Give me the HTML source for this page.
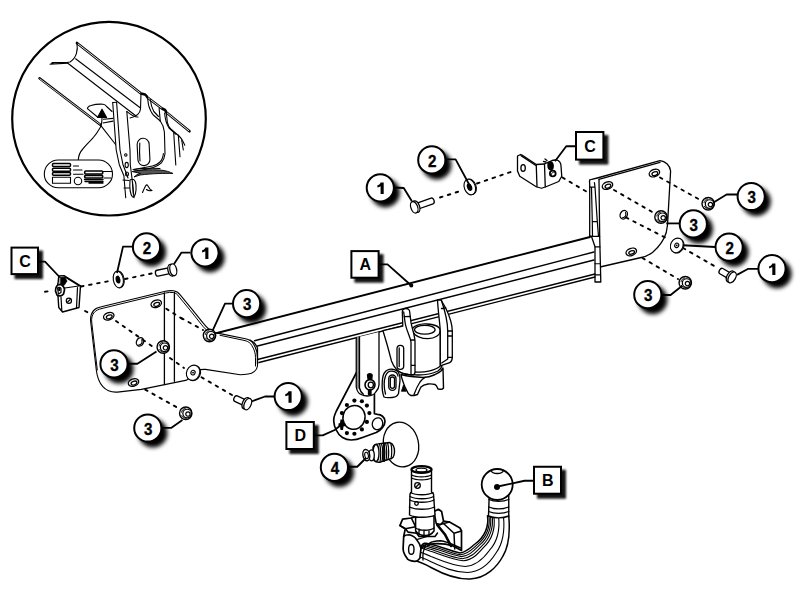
<!DOCTYPE html>
<html><head><meta charset="utf-8">
<style>
html,body{margin:0;padding:0;background:#fff;width:800px;height:600px;overflow:hidden}
svg{display:block}
text{font-family:"Liberation Sans",sans-serif;font-weight:bold}
</style></head><body>
<svg width="800" height="600" viewBox="0 0 800 600">
<defs>
<filter id="sh" x="-50%" y="-50%" width="200%" height="200%"><feGaussianBlur stdDeviation="2.2"/></filter>
<filter id="sh2" x="-50%" y="-50%" width="200%" height="200%"><feGaussianBlur stdDeviation="1.3"/></filter>
</defs>

<g id="inset" fill="none" stroke="#000" stroke-width="1.1" stroke-linecap="round" stroke-linejoin="round">
<circle cx="109" cy="118.7" r="96.8" stroke-width="2.2"/>
<!-- channel -->
<path d="M76.9,43 L141,93.5 L145,94.5 C146.5,95.5 147,96.5 147.5,97.5 L162,108.5 L165,110 C166,111 166,112 166.5,112.5 L189.5,131.3" stroke-width="2.6"/>
<path d="M78,43.9 L140.3,93 M148.3,98.1 L161.5,108.1 M167.3,113.1 L188.8,130.7" stroke="#fff" stroke-width="0.9"/>
<path d="M76.9,43 C78.2,50 76.5,58 70,62 L67.7,62.2 L52,62.6 M67.7,63.1 L50.1,64.2 L53,63.2"/>
<path d="M75.6,58.8 L140.5,108 M67.5,63 L136,116"/>
<path d="M141,93.5 L140.5,109 C140,114 137,116.5 130,118"/>
<!-- left rail -->
<path d="M39.5,78.3 L100.3,124.8" stroke-width="2.5"/>
<path d="M39.9,78.9 L100,124.4" stroke="#fff" stroke-width="0.8"/>
<path d="M100.3,124.8 L116,145"/>
<!-- oval hole + arrow -->
<path d="M97.5,117 L87.4,108.7 C87.5,107 89,106 91,105.5 C95,104.3 100,104 103,104.2 C105,104.3 106,105.5 106.6,106.5 L112,111.5"/>
<path d="M102,109.2 L97.5,117.4 L106.6,117.4 Z" fill="#000"/>
<path d="M103.4,119.3 L113,118.4 M103,123 L113,121.1"/>
<path d="M102,117.4 C102,120 101.8,126 99.3,128.9 C97,133 95,135.5 92.9,138 C89,142 84,147 82.8,149 C80,152 78.5,156 78.3,160"/>
<!-- flanges right of bracket -->
<path d="M147.5,97.5 C148,101 148.3,104 148.7,105.7 C150,110 151.5,113 153.3,115 L160.3,121 C162.5,124 164,128 164.4,132 L165,153.7 C164.5,158 163,161 161.4,162.8 C159,165 156,166.5 153.2,167.4 C148,169 142,170 134,171" fill="#fff"/>
<path d="M150.3,99.5 C150.8,104 151.8,108 153.8,111.5 L158.5,116.5"/>
<path d="M163.4,153.5 C163,158 161.5,160.5 160,162 C158,164 155,165.5 152.5,166 L134,169.5"/>
<path d="M159.1,108 L160.3,121.5 M162,108.5 L164,109.2 C165.5,110.5 166,111.5 166.1,112.6 C166.8,116 167,119 167.3,122 C168,125 169,127.5 170.8,129 L179,136 C181,138 182,139.5 182.5,140.6 L184.8,145.3"/>
<path d="M164.6,113 C165,118 165.8,123 169,128 L176,134.3"/>
<path d="M173.7,132.5 L175.8,165 M178.3,135 L180,156.7 M181.7,140 L183.3,150"/>
<!-- bracket -->
<path d="M112.7,102.5 L116.6,102.2 L126.8,111.5 L130,150 L130.3,164.7 L132.1,179.4 L134,197.8 L125.7,197.8 L123.9,175.7 L119.3,164.7 L116.2,150 Z" fill="#fff" stroke="none"/>
<path d="M112.7,102.5 L116.2,150 L119.3,164.7 L123.9,175.7 L125.7,197.8"/>
<path d="M116.6,102.2 L120,150 L123,164.7 L126.6,174 L128,178"/>
<path d="M112.7,102.5 L116.6,102.2"/>
<path d="M126.8,111.5 L130,150 L130.3,164.7 L132.1,179.4 L134,197.8"/>
<path d="M126.8,111.5 C130,114 134,117.5 138,117"/>
<rect x="137.5" y="138.3" width="12" height="27.3" rx="6" transform="rotate(-3 143.5 151.5)"/>
<path d="M139.8,143 C139.5,148 139.5,156 140,161"/>
<circle cx="125.8" cy="155" r="1.2"/>
<ellipse cx="126.7" cy="165" rx="1.6" ry="2.6"/>
<ellipse cx="127" cy="174" rx="1.5" ry="2"/>
<path d="M130,180 C129.5,187 130,194 132.5,197 C135,197.5 136.5,192 136,185 C135.5,180 133.5,178 130,180 Z"/>
<path d="M132.5,182 L133.3,194"/>
<path d="M123,180 L129,180.5 M124,188 L129.5,188"/>
<path d="M132.5,171.5 C140,170 150,169.3 160,170 C166,170.5 170,172 173,173.5 C165,173.2 152,173.5 140,175 L134,177 C136,175 138,174 140,173.5 Z" fill="#555" stroke-width="0.9"/>
<path d="M133,169.5 C140,168.5 150,168 160,168.5"/>
<path d="M142.5,192.5 C143.5,190 144.5,188 145.5,186 C146.5,184.5 147.5,184.5 148,186 C149,188 150,190 152,190.5 C150,191 148,191 146.5,189.5"/>
<!-- sticker -->
<rect x="44.3" y="160" width="68.2" height="27.8" rx="13.9" fill="#fff"/>
<rect x="52.5" y="163.6" width="18" height="3" rx="1" stroke-width="1.5"/>
<rect x="52.5" y="168.2" width="18" height="3" rx="1" stroke-width="1.5"/>
<rect x="52.5" y="172.6" width="18" height="2.6" rx="1" stroke-width="1.5"/>
<rect x="52.5" y="177.3" width="18" height="6" />
<circle cx="78" cy="181" r="3.7"/>
<rect x="84.7" y="171" width="18" height="3" rx="1" stroke-width="1.6"/>
<rect x="84.7" y="175.4" width="18" height="2.6" rx="1" stroke-width="1.6"/>
<path d="M84.5,179.5 L103,179.5 M85,181.5 L103,181.5 M89,183 L103,183" stroke-width="1.4"/>
<path d="M73.5,166 L78.5,166 M73.5,170 L82,170 M73.5,174.2 L83,174.2 M103,171.5 L112,171.5 M104,178 L111,178"/>
</g>

<g id="main" fill="none" stroke="#000" stroke-width="1.3" stroke-linecap="round" stroke-linejoin="round">
<!-- ===== RIGHT PLATE ===== -->
<path d="M590,180 L660,160.6 C665,161 670,165 670.6,171 L667.5,225 L666.25,232.5 C664,240 660,246 652.5,252.5 C648,255.5 645,257 641.25,257.5 L600,267" fill="#fff"/>
<path d="M598.75,179.4 L660,162.3"/>
<path d="M590,180 C589,181 589.7,182 589.7,184 L589.7,236 L591.5,236.5 L595,246.8 L595,282 L600.8,282 L599.7,236.3 L599,179.4" fill="#fff"/>
<path stroke-width="1.2" d="M589.7,187.2 L595,187.2 L594.4,182.5 M595,187.2 L597.3,221.6 L598.5,236.3 M591.5,188 L592.3,221.6 L592.5,236 M592.3,221.6 L597.3,221.6 M595,246.8 L600,246.8 M595,263.75 L600.3,263.75 M595,274.8 L600.5,274.8 M589.7,236.3 L599.7,236.3"/>
<ellipse cx="607.5" cy="185.6" rx="5.4" ry="3.6" transform="rotate(-20 607.5 185.6)"/>
<ellipse cx="607.8" cy="186.3" rx="3" ry="1.8" transform="rotate(-20 607.5 185.6)"/>
<ellipse cx="654.4" cy="173.1" rx="5.4" ry="3.6" transform="rotate(-20 654.4 173.1)"/>
<ellipse cx="654.7" cy="173.8" rx="3" ry="1.8" transform="rotate(-20 654.4 173.1)"/>
<ellipse cx="623.75" cy="214.75" rx="3.5" ry="4.4" transform="rotate(25 623.75 214.75)"/>
<path d="M625.5,212.5 C626.5,215 625.5,217.5 622.5,217.8" stroke-width="1.1"/>
<ellipse cx="631.25" cy="251.9" rx="5.4" ry="3.6" transform="rotate(-20 631.25 251.9)"/>
<ellipse cx="631.5" cy="252.6" rx="3" ry="1.6" transform="rotate(-20 631.25 251.9)"/>
<!-- ===== BRACKET C TOP ===== -->
<path d="M517.5,156 L520.5,154.5 L522,155 L536.25,164.5 L544.5,164 L552,160.5 L556.5,159.75 C560,161 561,163 561,166 L561.75,176.25 L558.75,181.5 L546,186.75 L541.5,188.25 L536.25,186.75 L519.75,176.25 L517.5,171 Z" fill="#fff"/>
<path d="M521,155.6 L535.5,165.2 M536.25,165 L537,186.75 M544.5,164.25 L545.25,186.75"/>
<ellipse cx="523.1" cy="168" rx="2.2" ry="3.3"/>
<circle cx="552.75" cy="173.5" r="2.9" stroke-width="1.8"/>
<path d="M551,175 C551.5,173 553,171.8 554.5,172" stroke-width="1"/>
<path d="M548,163 C551,160 554,163 553,168 C552,171 548,170 548,166 Z" fill="#000"/>
<path d="M545,159 L547,160.5 M543.5,161.5 L546,162"/>
<!-- ===== BRACKET C LEFT ===== -->
<path d="M58.75,276 L64,275.6 L80.5,285.75 L79,307.5 L62.5,312 L58.75,307.5 L58,296.25 L56,291 L58,283.5 Z" fill="#fff" stroke-width="1.4"/>
<path d="M64.75,288 L80.5,285.75 M61.75,291.75 L64.75,288 M65,277 L79.5,286 M77.5,287.5 L76.5,308 M61,297 L61.8,310.5" stroke-width="1.2"/>
<path d="M60.5,277.5 L64.5,277 L67,281 L64,285.5 L60.5,284 Z" fill="#000" stroke-width="0.8"/>
<path d="M55.5,291 C55.5,288 57,285 59.5,284.5 C62,284.5 64.5,287 64.5,290 L63.5,294 C62,296 59,296.5 57,295 Z" fill="#fff" stroke-width="1.7"/>
<path d="M57.5,288 C58.5,287 60.5,287 61,288.5 L61,292.5 L58.5,294 Z" stroke-width="1.2"/>
<path d="M59,288.5 L60,288.5 L60,290.5 L59,290.5 Z" fill="#000" stroke-width="1"/>
<circle cx="68.9" cy="300.75" r="2.6" stroke-width="1.2"/>
<path d="M67.6,302 L70.2,299.5" stroke-width="1.1"/>
<!-- ===== LEFT PLATE ===== -->
<path stroke-width="1.1" d="M101.35,306.7 L165.4,291.2 C168,290.6 171,290.5 173.4,290.7 C176,291 178.5,292.5 180,294.7 L192.1,309.4 L202.8,322.7 C205.5,326 208,329 210.8,330.7 C213,332 216,333 218.8,333.4 L245.5,338.7 C249,339.5 252,341.5 253.5,344 C256,348 257.5,352 257.5,357.4 L257.5,366 C257,370 253,373.5 248.2,374 C245,374.5 242.5,374.7 240.2,374.7 L205.4,369.4 C202,369.2 199.5,369.8 197.4,370.7 L186.75,380.1 L141.4,389.4 L117.4,392.1 C105,393 98,384 96.3,370 L90.7,322 C89.8,313 94,308 101.35,306.7 Z" fill="#fff"/>
<path stroke-width="1.0" d="M101.9,308.5 L165.6,293 C168,292.4 171,292.3 173.2,292.5 C175.4,292.8 177.2,294 178.4,296 L190.6,310.8 L201.2,324.2 C203.9,327.5 206.4,330.5 209.4,332.5 M220,335.3 L245,340.6 C248.2,341.4 250.6,343.1 251.7,345.3 C253.9,349 255.5,352.5 255.5,357.4 L255.5,366 M97.3,370 L91.7,322 C91,314.5 94.6,309.8 101.9,308.5"/>
<path d="M164.4,293 L164.4,384.5 M174.4,292.5 L174.4,381.25"/>
<ellipse cx="108.75" cy="316.25" rx="5.4" ry="3.6" transform="rotate(-20 108.75 316.25)"/>
<ellipse cx="109" cy="317" rx="3" ry="1.8" transform="rotate(-20 108.75 316.25)"/>
<ellipse cx="156.25" cy="303.75" rx="5.4" ry="3.6" transform="rotate(-20 156.25 303.75)"/>
<ellipse cx="156.5" cy="304.5" rx="3" ry="1.8" transform="rotate(-20 156.25 303.75)"/>
<ellipse cx="140" cy="341.9" rx="3.5" ry="4.4" transform="rotate(25 140 341.9)"/>
<path d="M141.7,339.7 C142.7,342.2 141.7,344.7 138.7,345" stroke-width="1.1"/>
<ellipse cx="133.5" cy="382.5" rx="5.4" ry="3.6" transform="rotate(-20 133.5 382.5)"/>
<ellipse cx="133.8" cy="383.2" rx="3" ry="1.8" transform="rotate(-20 133.5 382.5)"/>
<!-- ===== BEAM ===== -->
<path d="M217,333 L590,237" stroke-width="1.9"/>
<path d="M254.5,340.75 L594,252 M257.5,346 L594,260 M257.5,359.5 L595,274 M259,362.5 L595,277" />
<path d="M250,340 C253,341.5 256,344 257.5,348 L257.5,364"/>

<!-- ===== SOCKET PLATE D ===== -->
<path d="M356.5,372.5 L336.25,411.25 C334,416 333.5,419 333.75,421.25 C334,426 335,428 336.25,430 C338,434 340,436 342.5,437.5 C345,439 348,440 351.25,440 C355,440 359,439 362.5,437.5 L376.25,432.5 C379,431 381.5,429 382.5,427.5 C384.5,425 385,423 385,421.25 C385,419 384,417.5 382.5,416.25 C381,415 379,414.5 377.5,414.4 L374.4,413.75 L374.4,392" fill="#fff" stroke-width="1.7"/>
<ellipse cx="354" cy="417.4" rx="11" ry="12" transform="rotate(15 354 417.4)" stroke-width="1.5"/>
<ellipse cx="377.5" cy="423.75" rx="5.2" ry="6" transform="rotate(15 377.5 423.75)" stroke-width="1.3"/>
<g fill="#000" stroke="none">
<circle cx="354.4" cy="400.6" r="2.1"/><circle cx="361.9" cy="401.25" r="2.1"/><circle cx="366.9" cy="405.6" r="2.1"/><circle cx="369.4" cy="413.1" r="2.1"/><circle cx="366.9" cy="421.9" r="2.1"/><circle cx="361.9" cy="429.4" r="2.1"/><circle cx="354.4" cy="433.75" r="2.1"/><circle cx="346.9" cy="433.1" r="2.1"/><circle cx="341.9" cy="413.1" r="2.1"/><circle cx="346.9" cy="405" r="2.1"/>
<path d="M340.5,419.5 L343,419.5 L343.5,423 L345.5,423.5 L345.5,426 L343.5,426.5 L343,430 L340.5,430 L340,426.5 L338.5,426 L338.5,423.5 L340,423 Z"/>
</g>
<!-- ===== DROP BAR ===== -->
<path d="M356.25,337.4 L356.25,387 C357,391 358.5,393.5 361,394.5 C363,395.5 365,396 367.6,396 C371,396 374,394.5 375.75,392 C377.5,390 379,388 379,385 L379,332" fill="#fff" stroke-width="1.3"/>
<path d="M358.1,337.5 L358.1,388" stroke="#777" stroke-width="1.8"/>
<path d="M359.5,337 L359.5,388 C360.2,391 361.5,393 363.5,394.2"/>
<ellipse cx="370" cy="384.8" rx="5" ry="5.2" stroke-width="1.6"/>
<ellipse cx="370.8" cy="385" rx="2.6" ry="2.8" stroke-width="1.3"/>
<path d="M367.5,375 C368,373.3 371.5,373.3 372.2,375 L371.8,379 L368,379 Z" fill="#000"/>
<path d="M368.5,390 L371,390 L371,395 L368.5,394.5 Z" fill="#000"/>
<!-- ===== COUPLING ===== -->
<!-- cylinder -->
<path d="M411.7,331 C412,326 420,323.5 427,324 C435,324.5 440.3,327 440.3,331 L440.3,366 C436,370 425,373 415,372 L411.7,372 Z" fill="#fff"/>
<path d="M413,331.5 C414,336 422,338.7 428,338.7 C435,338.5 440,335 440.3,331"/>
<ellipse cx="424.8" cy="329.7" rx="10.3" ry="4.4"/>
<!-- left ear -->
<path d="M402.3,312 C402.3,309 404,308.5 406,308.5 C408,308.5 409.7,310 409.7,312 L411,322.7 C412.5,330 415,336 415,342 L415,372 C415,374.5 413,375.5 410.5,375 L404,374 C398,372 394,368 391.5,361 L387.5,346 L383,330.7 L402.8,326 Z" fill="#fff"/>
<path d="M403.7,312 L405,322 C406,330 410,336 411,342 L411,374 M404,316.7 L410.2,316.5 M411.2,365.3 L415,365.3 M411,340 L414.5,340"/>
<rect x="397" y="345.3" width="6.7" height="24" rx="3.3"/>
<path d="M399.2,348 L399.2,366.5"/>
<!-- right ear -->
<path d="M437.5,300 L441,300 L445.7,308 C449,315 452.3,325 452.3,331 L452.3,357.3 C452.3,360 451,362 449.7,362.7 L441.7,365.3 L440.3,365.3 L440.3,331 C440,325 438,310 437.5,300 Z" fill="#fff"/>
<path d="M441.3,300 C443,305 447.7,320 447.7,331 L447.7,359 L441.7,363 M445.7,308 L441.5,308.5 M452.3,331 L447.7,331 M452.3,336 L447.7,336 M452.3,357.3 L447.7,357.3"/>
<!-- lug -->
<path d="M384,397 C382,392 382,386 382.25,382.25 C382.5,377 383,374.5 384.7,372.5 C386.5,370 389,369 392,369.25 C395,369.5 397.5,370.5 398.5,372.5 C400,375 400.3,378 400,380.6 L398.5,393.6 C397.5,396 395,397.5 392,397.5 C389,397.5 386,398 384,397 Z" fill="#fff" stroke-width="1.3"/>
<path d="M385.5,394 C384,388 384,380 385.5,376 C387,372 390,371 392,371.2 C395,371.5 397.5,373 398,376"/>
<rect x="388.75" y="375" width="7.25" height="15.4" rx="3.6" stroke-width="1.3"/>
<rect x="390.3" y="377" width="4.2" height="11.4" rx="2.1"/>
<!-- saddle -->
<path d="M401,374.5 C405,375.8 408,376.3 411,376.5 L423,377.5 C427,377.3 431,376.5 434,375 C437,373.5 439.5,372.5 441,371 L443,368 L443.5,388 C442.5,389.3 441.5,389.5 440.5,389.3 L438,389 C437,386.5 436.5,385 435,384.5 C433,384 430.5,383.8 428,384 C425,384.5 422.5,385.5 421,387 C419.5,389.5 418.5,392.5 417.5,394.5 L414,395.5 L411,395.5 C409.5,394.8 408.5,394 408,393 L405,387 C403,382 401.5,378 401,374.5 Z" fill="#fff" stroke-width="1.4"/>
<path d="M414,394.5 C416,389 418,385 420,382 C421.5,380 423,378.5 425,377.5" stroke-width="1.3"/>
<path d="M402,373 C407,374.5 412,375 418,375 C426,375 433,373.5 438,371 C440,369.5 441.5,368 442,366" stroke-width="1.3"/>
<path d="M401.5,391 L403.5,385 L406,391 Z" fill="#000" stroke-width="0.8"/>
<!-- ===== COVER ===== -->
<ellipse cx="401" cy="444.5" rx="17.5" ry="22.5" transform="rotate(-12 401 444.5)" fill="#fff" stroke-width="1.3"/>
<!-- ===== CAP 4 ===== -->
<path d="M373,447 C374,445 376,444 378,443.9 L389.4,442.5 C391.5,443 393,444.5 393.6,446.2 C394.3,448 394.6,450 394.5,451.7 C394.4,454 394,456 393.1,457.2 C392,458.5 390.5,459 389.4,459 L380.3,462.2 C378,462.5 375.5,462 374,460.5 Z" fill="#fff" stroke-width="1.4"/>
<path d="M379.5,443.7 C381,448 381,457 380,462 M381.5,443.5 C383,448 383,457 382,461.5 M383.5,443.2 C385,448 385,456 384,461 M385.5,443 C387,447 387,456 386,460.3 M387.5,442.8 C389,447 389,456 388,459.7 M390.8,443.5 C392,447 392,455 391,458.6" stroke-width="1.2"/>
<path d="M384,443.5 L384,461" stroke-width="1.8"/>
<ellipse cx="376" cy="453" rx="3" ry="8.5" fill="#fff" stroke-width="1.3"/>
<ellipse cx="371.5" cy="455.3" rx="2.8" ry="5.5" fill="#fff" stroke-width="1.3"/>
<ellipse cx="366.3" cy="455.1" rx="3.4" ry="5.7" transform="rotate(-10 366.3 455.1)" fill="#fff" stroke-width="1.4"/>
<ellipse cx="366.5" cy="455.5" rx="1.8" ry="3.3" transform="rotate(-10 366.3 455.1)" stroke-width="1.1"/>

<path d="M508.75,516.00 C510.00,530.00 509.50,545.00 503.00,556.00 C497.00,567.00 486.00,578.50 470.00,579.00 C455.00,579.50 443.00,574.00 432.00,568.00 C425.00,564.00 418.00,561.00 412.00,560.00 L419,541 L412,560 Z" fill="#fff" stroke="none"/>
<path d="M508.75,516.00 C510.00,530.00 509.50,545.00 503.00,556.00 C497.00,567.00 486.00,578.50 470.00,579.00 C455.00,579.50 443.00,574.00 432.00,568.00 C425.00,564.00 418.00,561.00 412.00,560.00" stroke-width="1.5"/>
<path d="M503.44,516.00 C504.75,529.00 503.38,543.00 496.00,553.00 C490.25,562.25 481.25,571.88 467.50,572.50 C453.75,572.38 442.25,567.00 431.50,562.00 C425.25,558.75 419.00,556.25 413.75,555.25" stroke-width="1.1"/>
<path d="M498.55,516.00 C499.92,528.08 497.74,541.16 489.56,550.24 C484.04,557.88 476.88,565.78 465.20,566.52 C452.60,565.82 441.56,560.56 431.04,556.48 C425.48,553.92 419.92,551.88 415.36,550.88" stroke-width="1.1"/>
<path d="M493.88,516.00 C495.30,527.20 492.35,539.40 483.40,547.60 C478.10,553.70 472.70,559.95 463.00,560.80 C451.50,559.55 440.90,554.40 430.60,551.20 C425.70,549.30 420.80,547.70 416.90,546.70" stroke-width="1.1"/>
<path d="M492.18,516.00 C493.62,526.88 490.39,538.76 481.16,546.64 C475.94,552.18 471.18,557.83 462.20,558.72 C451.10,557.27 440.66,552.16 430.44,549.28 C425.78,547.62 421.12,546.18 417.46,545.18" stroke-width="1.1"/>
<path d="M490.48,516.00 C491.94,526.56 488.43,538.12 478.92,545.68 C473.78,550.66 469.66,555.71 461.40,556.64 C450.70,554.99 440.42,549.92 430.28,547.36 C425.86,545.94 421.44,544.66 418.02,543.66" stroke-width="1.1"/>
<path d="M488.99,516.00 C490.47,526.28 486.71,537.56 476.96,544.84 C471.89,549.33 468.33,553.86 460.70,554.82 C450.35,553.00 440.21,547.96 430.14,545.68 C425.93,544.47 421.72,543.33 418.51,542.33" stroke-width="1.1"/>
<path d="M487.50,516.00 C489.00,526.00 485.00,537.00 475.00,544.00 C470.00,548.00 467.00,552.00 460.00,553.00 C450.00,551.00 440.00,546.00 430.00,544.00 C426.00,543.00 422.00,542.00 419.00,541.00" stroke-width="1.5"/>
<path d="M508.75,516 L487.5,516" />
<!-- ball neck -->
<path d="M489.25,495 L488.5,516 C494,518.5 503,518.5 508.75,516 L508.75,495 Z" fill="#fff" stroke-width="1.4"/>
<path d="M489,499.5 C494,502 503,502 508.75,499.5 M488.8,507 C494,509.5 503,509.5 508.75,507 M488.6,511.5 C494,514 503,514 508.75,511.5" stroke-width="1.3"/>
<circle cx="497.2" cy="484.5" r="15.5" fill="#fff" stroke-width="1.8"/>
<path d="M491,470.5 C492.5,474.5 502,474.5 503.5,470.5"/>
<circle cx="497" cy="487" r="3" fill="#000" stroke="none"/>
<!-- block -->
<path d="M399.9,525.6 L402.6,519.1 L411.3,518 L434,511.5 L438.4,509.3 L441.6,511.5 L443.5,521 L449.5,522 L460,528 L461.5,531 L461.5,550.5 L453,546 C447,544 440,543 430,544 C426,543 422,542 421,548.4 L419.9,558.1 C418,561 416,561.5 414.5,561.4 C410,561 407.5,560 406.9,558.1 C404,554 403.1,551 403.1,548.4 L403.7,536.4 L405.3,528.8 Z" fill="#fff" stroke-width="1.7"/>
<path d="M399.9,525.6 L405.3,528.8 L408,532.1 L416.7,533.2 L415.6,526.7 L411.3,518 M405.3,528.8 L415.6,526.7" stroke-width="1.6"/>
<path d="M434,511.5 L436.2,523.4 L440.5,524.5 L443.8,521.3 M436.2,523.4 L437.3,525.6" stroke-width="1.6"/>
<path d="M437.3,525.6 L443.5,523.5 L454,533.25 L461.5,531 M454,533.25 L454.75,549 M443.5,523.5 L449.5,522" stroke-width="1.5"/>
<path d="M438.5,526.5 L445,534.5 L451,546" stroke-width="2.6"/>
<path d="M403.7,536.4 C405,535 407,534.8 409.1,534.8 C412,535.5 415,537 416.7,539.7 C419,542.5 420.5,545 421,548.4" stroke-width="1.6"/>
<ellipse cx="411.3" cy="549.4" rx="2.7" ry="4.9" stroke-width="1.4"/>
<path d="M416.7,533.2 L419,536.5 L435,536.5 L437.5,533" stroke-width="1.5"/>
<path d="M427.5,546.2 C429,543.5 431,542 432.9,541.8 C436,541 438,540.8 440.5,540.8 C444,541 446,542 449.2,543 L460.5,548" stroke-width="1.4"/>
<path d="M426,545 C423.5,549 422.5,554 423,560 M421,548.4 L427,544" stroke-width="1.3"/>
<path d="M416.7,539.7 L427,536.5" stroke-width="1.3"/>
<!-- pin collar ribs -->
<path d="M415.6,517.5 L415.6,531 C420,537 430,537 434,531 L434,515.5 Z" fill="#fff" stroke-width="1.5"/>
<path d="M419,529 L419,535 M424,530 L424,536.5 M429,530 L429,536 M415.6,528 C420,531 430,531 434,528" stroke-width="1.3"/>
<!-- pin -->
<path d="M411.5,470 L411.5,492 L410,494 L409.5,515 C415,518 430,518 435,515 L433.5,494 L431.5,492 L431.5,470 Z" fill="#fff" stroke-width="1.4"/>
<ellipse cx="421.5" cy="469.5" rx="10" ry="3.3" fill="#fff" stroke-width="2.2"/>
<ellipse cx="421.5" cy="470" rx="5.5" ry="1.9"/>
<path d="M411.5,475 C416,477.5 427,477.5 431.5,475 M411.5,478 C416,480.5 427,480.5 431.5,478 M410.5,492.5 C416,495.5 428,495.5 433,492.5 M410,496.5 C416,499.5 428,499.5 433.5,496.5 M409.7,500 C416,503 428,503 434,500 M409.3,507 C416,510 428,510 434.5,507" stroke-width="1.3"/>
<circle cx="417.5" cy="485.5" r="2.8"/>
<path d="M416,487 L419,484"/>
<circle cx="416.5" cy="503.5" r="1.8"/>

<path d="M440.00,197.50 L462.00,190.50" stroke-dasharray="2.6,5.6" stroke-width="1.9"/>
<path d="M477.00,183.50 L515.00,170.50" stroke-dasharray="2.6,5.6" stroke-width="1.9"/>
<path d="M562.50,177.50 L588.00,192.50" stroke-dasharray="2.6,5.6" stroke-width="1.9"/>
<path d="M614.00,190.00 L654.00,213.00" stroke-dasharray="2.6,5.6" stroke-width="1.9"/>
<path d="M660.00,177.50 L702.00,201.00" stroke-dasharray="2.6,5.6" stroke-width="1.9"/>
<path d="M626.00,217.50 L668.00,239.00" stroke-dasharray="2.6,5.6" stroke-width="1.9"/>
<path d="M683.00,248.00 L716.00,267.00" stroke-dasharray="2.6,5.6" stroke-width="1.9"/>
<path d="M642.50,258.00 L678.00,279.00" stroke-dasharray="2.6,5.6" stroke-width="1.9"/>
<path d="M45.00,291.80 L48.50,291.30" stroke-dasharray="2.6,5.6" stroke-width="1.9"/>
<path d="M81.00,286.50 L112.00,280.50" stroke-dasharray="2.6,5.6" stroke-width="1.9"/>
<path d="M125.00,279.00 L154.00,273.00" stroke-dasharray="2.6,5.6" stroke-width="1.9"/>
<path d="M85.00,311.00 L89.00,313.00" stroke-dasharray="2.6,5.6" stroke-width="1.9"/>
<path d="M116.00,321.00 L156.00,349.00" stroke-dasharray="2.6,5.6" stroke-width="1.9"/>
<path d="M166.25,308.75 L186.00,321.25" stroke-dasharray="2.6,5.6" stroke-width="1.9"/>
<path d="M181.25,318.00 L203.00,330.00" stroke-dasharray="2.6,5.6" stroke-width="1.9"/>
<path d="M170.00,358.00 L184.00,368.00" stroke-dasharray="2.6,5.6" stroke-width="1.9"/>
<path d="M201.50,377.25 L232.00,395.00" stroke-dasharray="2.6,5.6" stroke-width="1.9"/>
<path d="M145.25,389.60 L178.00,408.00" stroke-dasharray="2.6,5.6" stroke-width="1.9"/>
<g transform="translate(415.00 207.00) rotate(-19.36)"><path d="M1,-3.00 L18.11,-3.00 A2,3.00 0 0 1 18.11,3.00 L1,3.00" fill="#fff"/><ellipse cx="1.2" cy="0" rx="3.38" ry="6.00" fill="#fff"/><ellipse cx="-0.8" cy="0" rx="3.38" ry="6.00" fill="#fff"/></g>
<g transform="translate(172.50 270.00) rotate(168.02)"><path d="M1,-3.00 L15.37,-3.00 A2,3.00 0 0 1 15.37,3.00 L1,3.00" fill="#fff"/><ellipse cx="1.2" cy="0" rx="3.38" ry="6.00" fill="#fff"/><ellipse cx="-0.8" cy="0" rx="3.38" ry="6.00" fill="#fff"/></g>
<g transform="translate(731.40 277.00) rotate(-149.93)"><path d="M1,-3.00 L11.67,-3.00 A2,3.00 0 0 1 11.67,3.00 L1,3.00" fill="#fff"/><ellipse cx="1.2" cy="0" rx="3.38" ry="6.00" fill="#fff"/><ellipse cx="-0.8" cy="0" rx="3.38" ry="6.00" fill="#fff"/></g>
<g transform="translate(247.00 403.75) rotate(-155.12)"><path d="M1,-3.00 L12.17,-3.00 A2,3.00 0 0 1 12.17,3.00 L1,3.00" fill="#fff"/><ellipse cx="1.2" cy="0" rx="3.38" ry="6.00" fill="#fff"/><ellipse cx="-0.8" cy="0" rx="3.38" ry="6.00" fill="#fff"/></g>
<g transform="translate(470.00 187.00) rotate(-20.00)"><ellipse cx="0.6" cy="0" rx="5.50" ry="8.00" fill="#fff" stroke-width="1.1"/><ellipse cx="-0.2" cy="0" rx="5.50" ry="8.00" fill="#fff" stroke-width="1.1"/><ellipse cx="-0.5" cy="0" rx="1.92" ry="3.20" fill="#000"/></g>
<g transform="translate(118.50 279.50) rotate(-10.00)"><ellipse cx="0.6" cy="0" rx="5.00" ry="8.40" fill="#fff" stroke-width="1.1"/><ellipse cx="-0.2" cy="0" rx="5.00" ry="8.40" fill="#fff" stroke-width="1.1"/><ellipse cx="-0.5" cy="0" rx="1.75" ry="3.36" fill="#000"/></g>
<g transform="translate(677.00 245.50) rotate(25.00)"><ellipse cx="0.6" cy="0" rx="6.20" ry="7.50" fill="#fff" stroke-width="1.1"/><ellipse cx="-0.2" cy="0" rx="6.20" ry="7.50" fill="#fff" stroke-width="1.1"/><ellipse cx="-0.3" cy="0" rx="1.98" ry="2.25" stroke-width="1.1"/><circle cx="-0.3" cy="0" r="0.9" fill="#000" stroke="none"/></g>
<g transform="translate(193.30 372.80) rotate(25.00)"><ellipse cx="0.6" cy="0" rx="6.50" ry="7.80" fill="#fff" stroke-width="1.1"/><ellipse cx="-0.2" cy="0" rx="6.50" ry="7.80" fill="#fff" stroke-width="1.1"/><ellipse cx="-0.3" cy="0" rx="2.08" ry="2.34" stroke-width="1.1"/><circle cx="-0.3" cy="0" r="0.9" fill="#000" stroke="none"/></g>
<g transform="translate(708.20 203.75)"><circle cx="0" cy="0" r="6.2" fill="#fff" stroke-width="1.4"/><circle cx="1.4" cy="0.3" r="4.3" stroke-width="1.2"/><circle cx="2.2" cy="0.8" r="2.2" stroke-width="1.2"/><path d="M-4.2,-1 C-4,-3 -2.5,-4.5 -0.5,-4.8 M-4,2.5 C-3,4.3 -1.5,5 0.5,5" stroke-width="0.9"/></g>
<g transform="translate(661.00 217.00)"><circle cx="0" cy="0" r="6.2" fill="#fff" stroke-width="1.4"/><circle cx="1.4" cy="0.3" r="4.3" stroke-width="1.2"/><circle cx="2.2" cy="0.8" r="2.2" stroke-width="1.2"/><path d="M-4.2,-1 C-4,-3 -2.5,-4.5 -0.5,-4.8 M-4,2.5 C-3,4.3 -1.5,5 0.5,5" stroke-width="0.9"/></g>
<g transform="translate(685.25 282.75)"><circle cx="0" cy="0" r="6.2" fill="#fff" stroke-width="1.4"/><circle cx="1.4" cy="0.3" r="4.3" stroke-width="1.2"/><circle cx="2.2" cy="0.8" r="2.2" stroke-width="1.2"/><path d="M-4.2,-1 C-4,-3 -2.5,-4.5 -0.5,-4.8 M-4,2.5 C-3,4.3 -1.5,5 0.5,5" stroke-width="0.9"/></g>
<g transform="translate(209.50 335.50)"><circle cx="0" cy="0" r="6.2" fill="#fff" stroke-width="1.4"/><circle cx="1.4" cy="0.3" r="4.3" stroke-width="1.2"/><circle cx="2.2" cy="0.8" r="2.2" stroke-width="1.2"/><path d="M-4.2,-1 C-4,-3 -2.5,-4.5 -0.5,-4.8 M-4,2.5 C-3,4.3 -1.5,5 0.5,5" stroke-width="0.9"/></g>
<g transform="translate(163.25 347.00)"><circle cx="0" cy="0" r="6.2" fill="#fff" stroke-width="1.4"/><circle cx="1.4" cy="0.3" r="4.3" stroke-width="1.2"/><circle cx="2.2" cy="0.8" r="2.2" stroke-width="1.2"/><path d="M-4.2,-1 C-4,-3 -2.5,-4.5 -0.5,-4.8 M-4,2.5 C-3,4.3 -1.5,5 0.5,5" stroke-width="0.9"/></g>
<g transform="translate(185.75 413.25)"><circle cx="0" cy="0" r="6.2" fill="#fff" stroke-width="1.4"/><circle cx="1.4" cy="0.3" r="4.3" stroke-width="1.2"/><circle cx="2.2" cy="0.8" r="2.2" stroke-width="1.2"/><path d="M-4.2,-1 C-4,-3 -2.5,-4.5 -0.5,-4.8 M-4,2.5 C-3,4.3 -1.5,5 0.5,5" stroke-width="0.9"/></g>
</g>
<g id="labels" stroke="#000" fill="none" stroke-width="1.8" stroke-linejoin="round">
<!-- leaders -->
<polyline points="393.75,187.5 403.75,188 411.9,201.25"/>
<polyline points="445.6,159.4 455.6,159.4 470,186"/>
<polyline points="575,146.25 566.25,146.25 555,161.25"/>
<polyline points="737.1,194.5 726.6,194.5 713.5,202.4"/>
<polyline points="679.4,223.4 666.25,223.4"/>
<polyline points="715.25,247 682.9,245.25"/>
<polyline points="758.4,268.8 748.25,268.8 737,274.9"/>
<polyline points="661.6,295 670.6,295 681.9,286"/>
<polyline points="39,261.6 45,261.6 60,277.5"/>
<polyline points="132,246.6 123,246.6 117,273"/>
<polyline points="190.5,252.6 181.5,252.6 174,264"/>
<polyline points="232.9,303.6 225,303.6 212.6,330.6"/>
<polyline points="127.25,363.75 137.4,363.75 156.5,351.4"/>
<polyline points="161,427.9 171.1,427.9 182.4,420"/>
<polyline points="379.6,264.3 387.5,264.3 411.25,285.5"/>
<polyline points="274,396.5 265,396.5 251.5,401.5"/>
<polyline points="314.5,435.4 322.7,435.4 334.7,430 341.3,424.7"/>
<polyline points="348.25,466.75 357.25,466.75 366.25,457.75"/>
<polyline points="533,480.75 524.5,480.75 496.75,486.75"/>
<circle cx="411.3" cy="285.6" r="2" fill="#000" stroke="none"/>

</g>
<g id="shadows" fill="#000" filter="url(#sh)" opacity="1">
<circle cx="385.30" cy="192.80" r="14.6"/>
<circle cx="436.80" cy="164.90" r="14.6"/>
<circle cx="756.20" cy="201.50" r="14.6"/>
<circle cx="698.30" cy="228.90" r="14.6"/>
<circle cx="734.10" cy="252.10" r="14.6"/>
<circle cx="777.00" cy="273.70" r="14.6"/>
<circle cx="652.80" cy="299.70" r="14.6"/>
<circle cx="151.50" cy="251.90" r="14.6"/>
<circle cx="210.00" cy="257.80" r="14.6"/>
<circle cx="251.60" cy="308.70" r="14.6"/>
<circle cx="119.00" cy="368.90" r="14.6"/>
<circle cx="152.80" cy="433.00" r="14.6"/>
<circle cx="293.20" cy="401.50" r="14.6"/>
<circle cx="339.40" cy="472.40" r="14.6"/>
</g>
<g fill="#000" filter="url(#sh2)" opacity="0.92">
<rect x="579.00" y="135.00" width="29.40" height="29.60"/>
<rect x="14.50" y="250.60" width="28.50" height="28.50"/>
<rect x="354.40" y="254.10" width="29.20" height="28.60"/>
<rect x="289.40" y="425.00" width="29.40" height="29.00"/>
<rect x="537.00" y="469.75" width="29.00" height="28.95"/>
</g>
<g id="circ" fill="#fff" stroke="#000" stroke-width="2">
<circle cx="380.30" cy="187.80" r="13.6"/>
<circle cx="431.80" cy="159.90" r="13.6"/>
<circle cx="751.20" cy="196.50" r="13.6"/>
<circle cx="693.30" cy="223.90" r="13.6"/>
<circle cx="729.10" cy="247.10" r="13.6"/>
<circle cx="772.00" cy="268.70" r="13.6"/>
<circle cx="647.80" cy="294.70" r="13.6"/>
<circle cx="146.50" cy="246.90" r="13.6"/>
<circle cx="205.00" cy="252.80" r="13.6"/>
<circle cx="246.60" cy="303.70" r="13.6"/>
<circle cx="114.00" cy="363.90" r="13.6"/>
<circle cx="147.80" cy="428.00" r="13.6"/>
<circle cx="288.20" cy="396.50" r="13.6"/>
<circle cx="334.40" cy="467.40" r="13.6"/>
<rect x="576.00" y="132.00" width="27.40" height="27.60"/>
<rect x="11.50" y="247.60" width="26.50" height="26.50"/>
<rect x="351.40" y="251.10" width="27.20" height="26.60"/>
<rect x="286.40" y="422.00" width="27.40" height="27.00"/>
<rect x="534.00" y="466.75" width="27.00" height="26.95"/>
</g>
<g id="nums" fill="#000">
<path d="M380.60,182.50 L383.70,182.50 L383.70,194.00 L380.60,194.00 L380.60,186.20 C379.80,186.90 378.70,187.30 377.40,187.50 L377.40,185.30 C379.10,184.90 380.20,184.00 380.60,182.50 Z"/>
<text x="0" y="0" font-size="16.5" text-anchor="middle" transform="translate(432.30 166.60) scale(0.92 1)" stroke="#000" stroke-width="0.35">2</text>
<text x="0" y="0" font-size="16.5" text-anchor="middle" transform="translate(751.70 203.20) scale(0.92 1)" stroke="#000" stroke-width="0.35">3</text>
<text x="0" y="0" font-size="16.5" text-anchor="middle" transform="translate(693.80 230.60) scale(0.92 1)" stroke="#000" stroke-width="0.35">3</text>
<text x="0" y="0" font-size="16.5" text-anchor="middle" transform="translate(729.60 253.80) scale(0.92 1)" stroke="#000" stroke-width="0.35">2</text>
<path d="M772.30,263.40 L775.40,263.40 L775.40,274.90 L772.30,274.90 L772.30,267.10 C771.50,267.80 770.40,268.20 769.10,268.40 L769.10,266.20 C770.80,265.80 771.90,264.90 772.30,263.40 Z"/>
<text x="0" y="0" font-size="16.5" text-anchor="middle" transform="translate(648.30 301.40) scale(0.92 1)" stroke="#000" stroke-width="0.35">3</text>
<text x="0" y="0" font-size="16.5" text-anchor="middle" transform="translate(147.00 253.60) scale(0.92 1)" stroke="#000" stroke-width="0.35">2</text>
<path d="M205.30,247.50 L208.40,247.50 L208.40,259.00 L205.30,259.00 L205.30,251.20 C204.50,251.90 203.40,252.30 202.10,252.50 L202.10,250.30 C203.80,249.90 204.90,249.00 205.30,247.50 Z"/>
<text x="0" y="0" font-size="16.5" text-anchor="middle" transform="translate(247.10 310.40) scale(0.92 1)" stroke="#000" stroke-width="0.35">3</text>
<text x="0" y="0" font-size="16.5" text-anchor="middle" transform="translate(114.50 370.60) scale(0.92 1)" stroke="#000" stroke-width="0.35">3</text>
<text x="0" y="0" font-size="16.5" text-anchor="middle" transform="translate(148.30 434.70) scale(0.92 1)" stroke="#000" stroke-width="0.35">3</text>
<path d="M288.50,391.20 L291.60,391.20 L291.60,402.70 L288.50,402.70 L288.50,394.90 C287.70,395.60 286.60,396.00 285.30,396.20 L285.30,394.00 C287.00,393.60 288.10,392.70 288.50,391.20 Z"/>
<text x="0" y="0" font-size="16.5" text-anchor="middle" transform="translate(334.90 474.10) scale(0.92 1)" stroke="#000" stroke-width="0.35">4</text>
<text x="0" y="0" font-size="16" text-anchor="middle" transform="translate(590.00 151.60)">C</text>
<text x="0" y="0" font-size="16" text-anchor="middle" transform="translate(25.05 266.65)">C</text>
<text x="0" y="0" font-size="16" text-anchor="middle" transform="translate(365.30 270.20)">A</text>
<text x="0" y="0" font-size="16" text-anchor="middle" transform="translate(300.40 441.30)">D</text>
<text x="0" y="0" font-size="16" text-anchor="middle" transform="translate(547.80 486.03)">B</text>
</g>
</svg></body></html>
